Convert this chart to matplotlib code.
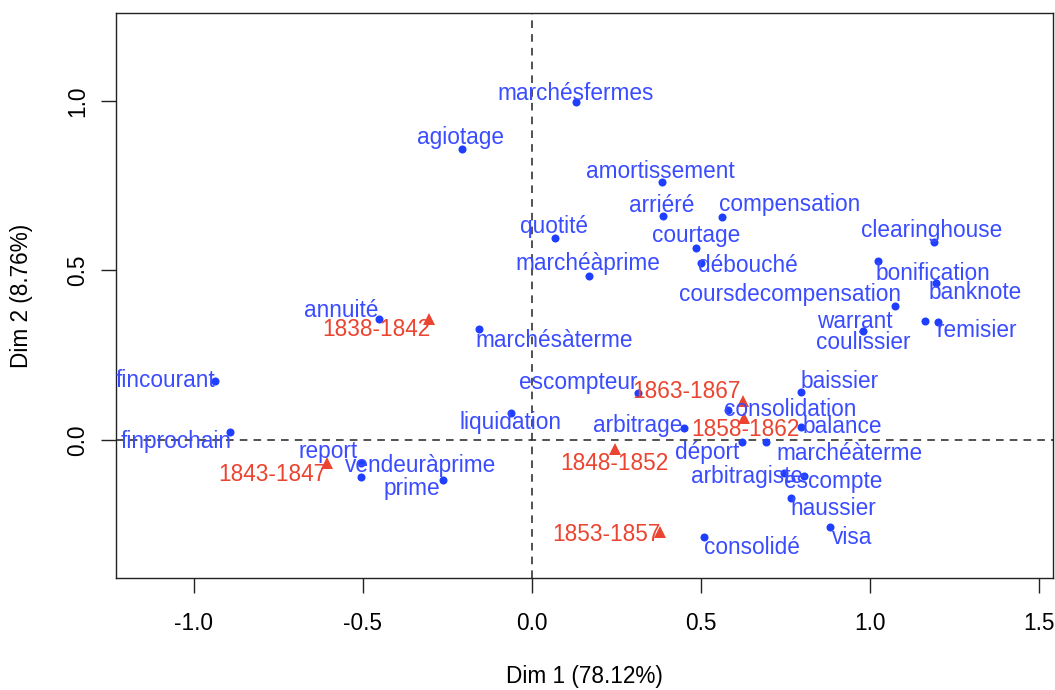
import matplotlib
matplotlib.use("Agg")
import matplotlib.pyplot as plt

plt.rcParams['font.family'] = ['Liberation Sans', 'DejaVu Sans']

# column points (words) - coordinates on Dim 1 / Dim 2
words = ["marchésfermes", "agiotage", "amortissement", "arriéré", "compensation",
         "quotité", "courtage", "marchéàprime", "débouché", "clearinghouse",
         "bonification", "banknote", "coursdecompensation", "warrant", "remisier",
         "coulissier", "annuité", "marchésàterme", "fincourant", "finprochain",
         "liquidation", "report", "vendeuràprime", "prime", "escompteur",
         "baissier", "consolidation", "balance", "arbitrage", "déport",
         "marchéàterme", "arbitragiste", "escompte", "haussier", "visa", "consolidé"]
word_dim1 = [0.129, -0.207, 0.384, 0.387, 0.563,
             0.069, 0.486, 0.169, 0.501, 1.189,
             1.025, 1.195, 1.073, 1.163, 1.201,
             0.980, -0.452, -0.156, -0.939, -0.893,
             -0.061, -0.505, -0.505, -0.263, 0.314,
             0.796, 0.580, 0.796, 0.450, 0.620,
             0.691, 0.746, 0.804, 0.766, 0.882, 0.509]
word_dim2 = [0.996, 0.858, 0.762, 0.661, 0.658,
             0.594, 0.566, 0.484, 0.521, 0.583,
             0.527, 0.462, 0.395, 0.352, 0.349,
             0.320, 0.356, 0.327, 0.174, 0.023,
             0.078, -0.067, -0.109, -0.117, 0.138,
             0.140, 0.089, 0.039, 0.034, -0.007,
             -0.007, -0.098, -0.106, -0.170, -0.256, -0.286]

# row points (periods)
periods = ["1838-1842", "1843-1847", "1848-1852", "1853-1857", "1858-1862", "1863-1867"]
period_dim1 = [-0.304, -0.607, 0.246, 0.379, 0.628, 0.623]
period_dim2 = [0.356, -0.069, -0.027, -0.272, 0.064, 0.116]

# label offsets in pixels (text centre relative to point), as in the repelled layout
word_off = {
    "marchésfermes": (0, 9), "agiotage": (-1, 11), "amortissement": (-1, 10),
    "arriéré": (-1, 10), "compensation": (67, 12), "quotité": (-1, 12),
    "courtage": (0, 12), "marchéàprime": (-1, 12), "débouché": (47, -2),
    "clearinghouse": (-2, 12), "bonification": (54, -12), "banknote": (39, -9),
    "coursdecompensation": (-105, 11), "warrant": (-70, -1), "remisier": (39, -9),
    "coulissier": (0, -11), "annuité": (-38, 9), "marchésàterme": (75, -11),
    "fincourant": (-49, 0), "finprochain": (-54, -9), "liquidation": (-1, -9),
    "report": (-33, 11), "vendeuràprime": (59, 11), "prime": (-31, -9),
    "escompteur": (-60, 11), "baissier": (39, 11), "consolidation": (62, 0),
    "balance": (41, 0), "arbitrage": (-46, 3), "déport": (-34, -10),
    "marchéàterme": (84, -11), "arbitragiste": (-37, -3), "escompte": (29, -6),
    "haussier": (42, -11), "visa": (22, -11), "consolidé": (48, -11),
}
period_off = {
    "1838-1842": (-53, -10), "1843-1847": (-54, -11), "1848-1852": (-1, -14),
    "1853-1857": (-54, -2), "1858-1862": (1, -11), "1863-1867": (-56, 9),
}

blue_pt = "#1f3fff"
blue_txt = "#3a4cff"
red = "#eb4430"
fs = 16.3

fig = plt.figure(figsize=(10.55, 6.9), dpi=100)
ax = fig.add_axes([0.1104, 0.162, 0.8876, 0.8196])

ax.axhline(0, color="#222222", ls=(0, (5, 4)), lw=1.1, zorder=1)
ax.axvline(0, color="#222222", ls=(0, (5, 4)), lw=1.1, zorder=1)

ax.plot(word_dim1, word_dim2, "o", color=blue_pt, ms=5.8, mew=0, zorder=3)
ax.plot(period_dim1, period_dim2, "^", color=red, ms=9, mew=0, zorder=3)

for w, x, y in zip(words, word_dim1, word_dim2):
    dx, dy = word_off[w]
    ax.annotate(w, (x, y), xytext=(dx, dy), textcoords="offset pixels",
                ha="center", va="center", color=blue_txt, fontsize=fs, zorder=4)
for p, x, y in zip(periods, period_dim1, period_dim2):
    dx, dy = period_off[p]
    ax.annotate(p, (x, y), xytext=(dx, dy), textcoords="offset pixels",
                ha="center", va="center", color=red, fontsize=fs, zorder=4)

ax.set_xlim(-1.229, 1.541)
ax.set_ylim(-0.408, 1.260)
ax.set_xticks([-1.0, -0.5, 0.0, 0.5, 1.0, 1.5])
ax.set_yticks([0.0, 0.5, 1.0])
ax.set_xticklabels(["-1.0", "-0.5", "0.0", "0.5", "1.0", "1.5"])
ax.set_yticklabels(["0.0", "0.5", "1.0"], rotation=90, va="center")
ax.tick_params(axis="both", length=10.5, width=1.0, labelsize=fs, color="#222222")
ax.tick_params(axis="x", pad=13.5)
ax.tick_params(axis="y", pad=9)
for s in ax.spines.values():
    s.set_linewidth(1.0)
    s.set_color("#222222")

ax.set_xlabel("Dim 1 (78.12%)", fontsize=fs, va="center")
ax.xaxis.set_label_coords(0.5, -0.1745)
ax.set_ylabel("Dim 2 (8.76%)", fontsize=fs, va="center")
ax.yaxis.set_label_coords(-0.101, 0.5)

fig.savefig("out.png", dpi=100)
